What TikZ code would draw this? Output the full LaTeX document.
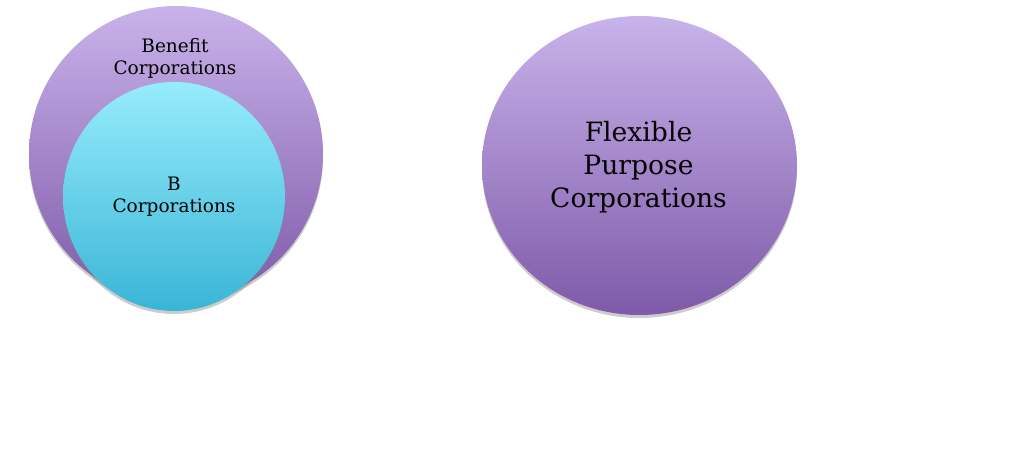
\documentclass[tikz,border=0pt]{standalone}
\usepackage{fontspec}
\setmainfont{DejaVu Serif}
\usetikzlibrary{shapes.geometric}
\usetikzlibrary{shadows}

\definecolor{lilactop}{HTML}{C9B3EB}
\definecolor{lilacbottom}{HTML}{7E5AA8}
\definecolor{cyantop}{HTML}{97ECFC}
\definecolor{cyanbottom}{HTML}{3AB5D7}

\begin{document}
\begin{tikzpicture}[x=0.5pt,y=-0.5pt,
        bubble/.style={ellipse,inner sep=0pt,
                drop shadow={shadow xshift=0pt,shadow yshift=-1.5pt,opacity=0.4}},
        lilac/.style={bubble,top color=lilactop,bottom color=lilacbottom},
        aqua/.style={bubble,top color=cyantop,bottom color=cyanbottom},
        small label/.style={align=center,inner sep=0pt,
                font=\fontsize{9.25pt}{11pt}\selectfont},
        big label/.style={align=center,inner sep=0pt,
                font=\fontsize{13.3pt}{16.5pt}\selectfont}]
        % page frame
        \useasboundingbox (0,0) rectangle (1024,458);

        % left: benefit corporations holding b corporations
        \node[lilac,minimum width=147pt,minimum height=148pt] (benefit) at (176,154) {};
        \node[aqua,minimum width=111pt,minimum height=114.5pt] (bcorp) at (174,196.5) {};
        \node[small label] (benefittext) at (175,58) {Benefit\\Corporations};
        \node[small label] (bcorptext) at (174,197) {B\\Corporations};

        % right: flexible purpose corporations
        \node[lilac,minimum width=157.5pt,minimum height=149.5pt] (flexible) at (639.5,165.5) {};
        \node[big label] (flexibletext) at (638.5,167) {Flexible\\Purpose\\Corporations};
\end{tikzpicture}
\end{document}
